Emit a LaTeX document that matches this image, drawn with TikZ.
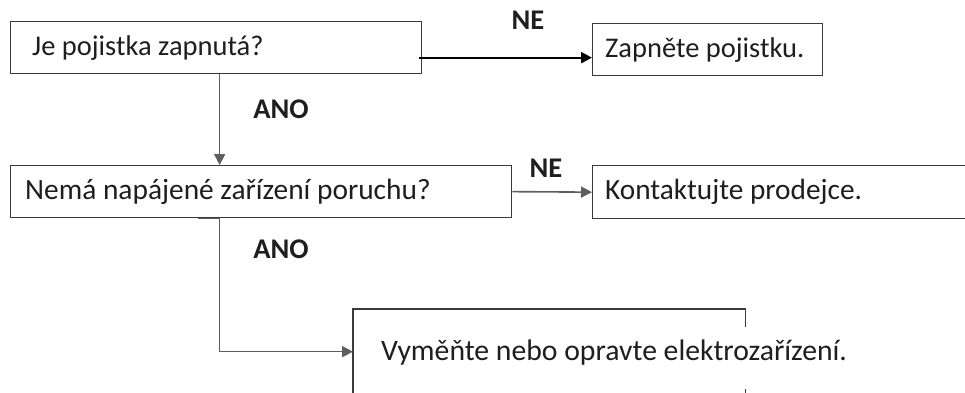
\documentclass[tikz,border=0pt]{standalone}
\usepackage{fontspec}
\setmainfont{Carlito}
\usetikzlibrary{calc,backgrounds,arrows.meta}
\definecolor{framegray}{HTML}{3A3A3A}
\definecolor{linegray}{HTML}{5E5E5E}
\definecolor{textgray}{HTML}{1E1E1E}

\begin{document}
\begin{tikzpicture}[%
    x=1pt, y=-1pt,%
    show background rectangle,%
    tight background,%
    background rectangle/.style={fill=white}%
  ]
  % Postup při poruše

  %
  % Definice
  %
  \tikzset{
    box/.style={rectangle, draw=framegray, line width=1.3pt, anchor=north west,
      minimum height=52pt, inner sep=0pt},
    boxtext/.style={anchor=west, inner sep=0pt, text=textgray,
      font=\fontsize{#1}{32}\selectfont},
    boxtext/.default=28.5,
    answer/.style={font=\fontsize{28.5}{32}\selectfont\bfseries, text=textgray},
    link/.style={draw=linegray, line width=1.6pt, -{Triangle[length=11pt,width=11pt]}},
  }
  \pgfmathsetmacro{\xl}{10};%
  \pgfmathsetmacro{\xr}{592};%
  \pgfmathsetmacro{\xv}{353};%
  \pgfmathsetmacro{\ya}{21};%
  \pgfmathsetmacro{\yb}{165};%
  \pgfmathsetmacro{\yc}{309};%
  \useasboundingbox (0,0) rectangle (965,392);

  %
  % Kresba
  %
  % Otázky
  \node[box, minimum width=411pt] (q1) at (\xl,\ya) {};
  \node[boxtext] (q1t) at ([xshift=22pt]q1.west) {Je pojistka zapnutá?};
  \node[box, minimum width=501pt] (q2) at (\xl,\yb) {};
  \node[boxtext=29.4] (q2t) at ([xshift=15pt]q2.west) {Nemá napájené zařízení poruchu?};

  % Kroky
  \node[box, minimum width=230pt] (a1) at (\xr,\ya+2) {};
  \node[boxtext] (a1t) at ([xshift=13pt]a1.west) {Zapněte pojistku.};
  \node[box, minimum width=400pt, minimum height=53pt] (a2) at (\xr,\yb) {};
  \node[boxtext=29.3] (a2t) at ([xshift=13pt]a2.west) {Kontaktujte prodejce.};
  \node[box, draw=none, minimum width=391pt, minimum height=92pt] (a3) at (\xv,\yc) {};
  \node[boxtext=29.7] (a3t) at ([xshift=28pt,yshift=3pt]a3.west) {Vyměňte nebo opravte elektrozařízení.};
  \draw[draw=framegray, line width=1.3pt] ([yshift=-18pt]a3.north east) -- (a3.north east)
  -- (a3.north west) -- (a3.south west) -- (a3.south east) -- ([yshift=13pt]a3.south east);%

  % Odpovědi
  \node[answer] (ne1) at (528,20) {NE};
  \node[answer] (ne2) at (546,168) {NE};
  \node[answer] (ano1) at (281,109) {ANO};
  \node[answer] (ano2) at (281,249) {ANO};

  % Spojnice
  \draw[link, draw=black, line width=2.3pt] ([xshift=-3pt,yshift=-10pt]q1.east) -- ([yshift=-8pt]a1.west);%
  \draw[link] (q2.east) -- (a2.west);%
  \draw[link] ([xshift=3.5pt]q1.south) -- ([xshift=3.5pt]q1.south |- q2.north);%
  \draw[link] ([xshift=-63.5pt]q2.south) -- ([xshift=-41.5pt]q2.south) |- ([yshift=4pt]a3.west);%

\end{tikzpicture}
\end{document}
